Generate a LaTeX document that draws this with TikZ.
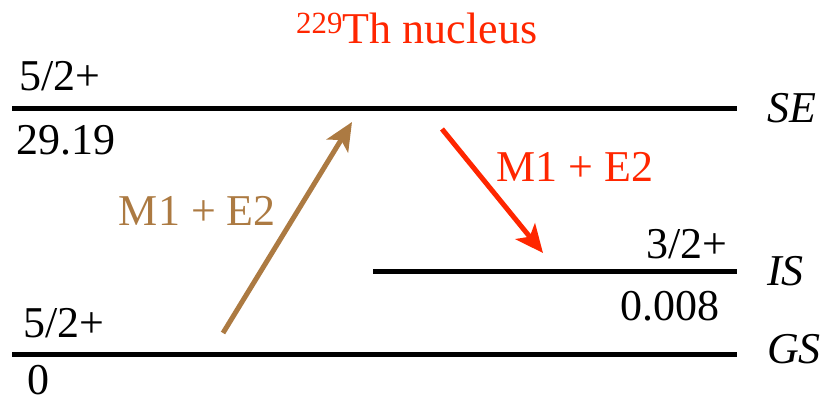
\documentclass[tikz,border=0pt]{standalone}
\usepackage{fontspec}
\setmainfont{Liberation Serif}[Ligatures=TeX]
\newfontfamily\timesf{Liberation Serif}
\usetikzlibrary{arrows.meta}
\definecolor{tred}{RGB}{255,38,0}
\definecolor{tbrown}{RGB}{172,122,66}
\begin{document}
\begin{tikzpicture}[x=1pt,y=-1pt,
  lbl/.style={inner sep=0pt,font=\timesf\fontsize{44}{50}\selectfont},
  level/.style={line width=5pt},
  trans/.style={line width=5pt,-{Stealth[length=28pt,width=25pt,inset=7pt]}}]
\useasboundingbox (0,0) rectangle (828,402);
% levels
\coordinate (se1) at (12,108); \coordinate (se2) at (737,108);
\coordinate (is1) at (373,271); \coordinate (is2) at (737,271);
\coordinate (gs1) at (12,354); \coordinate (gs2) at (737,354);
\draw[level] (se1) -- (se2);
\draw[level] (is1) -- (is2);
\draw[level] (gs1) -- (gs2);
% labels
\node[lbl,text=tred,anchor=base west] (title) at (296,43) {\textsuperscript{229}Th nucleus};
\node[lbl,anchor=base west] (sespin) at (19,90) {5/2+};
\node[lbl,anchor=base west] (seen) at (16,154) {29.19};
\node[lbl,anchor=base west] (sename) at (767,122) {\itshape SE};
\node[lbl,anchor=base east] (isspin) at (728,258) {3/2+};
\node[lbl,anchor=base east] (isen) at (720,320) {0.008};
\node[lbl,anchor=base west] (isname) at (767,285) {\itshape IS};
\node[lbl,anchor=base west] (gsspin) at (23,337) {5/2+};
\node[lbl,anchor=base west] (gsen) at (27,394) {0};
\node[lbl,anchor=base west] (gsname) at (767,363) {\itshape GS};
% transitions
\coordinate (ua) at (223,333); \coordinate (ub) at (352,122);
\coordinate (da) at (442,129); \coordinate (db) at (543,253);
\draw[trans,tbrown] (ua) -- (ub);
\draw[trans,tred] (da) -- (db);
\node[lbl,text=tbrown,anchor=base east] (ulbl) at (276,225) {M1 + E2};
\node[lbl,text=tred,anchor=base west] (dlbl) at (496,181) {M1 + E2};
\end{tikzpicture}
\end{document}
